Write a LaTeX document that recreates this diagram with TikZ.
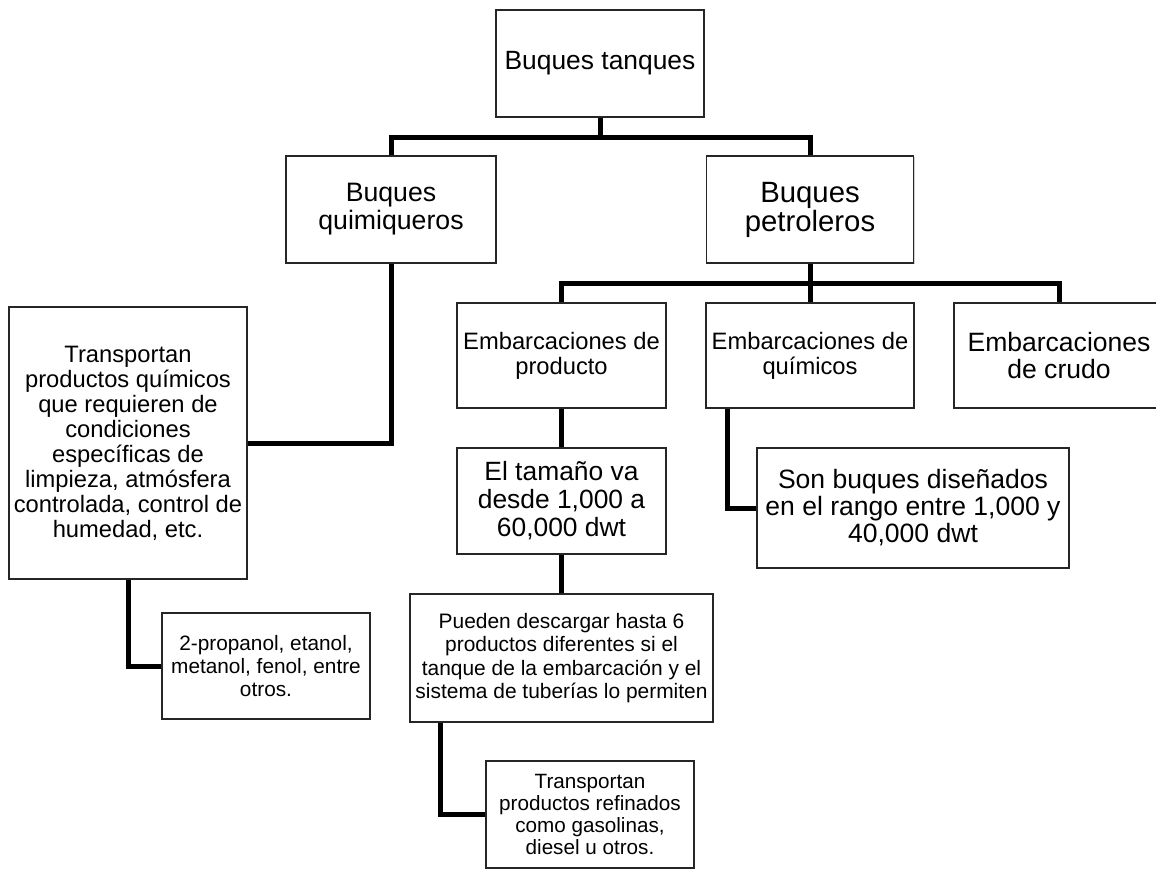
\documentclass[tikz,border=0pt]{standalone}
\usepackage{fontspec}
\setmainfont{Liberation Sans}
\usetikzlibrary{shadows,calc}
\newdimen\pxu \pxu=0.75pt
\newcommand\myfs[2]{\fontsize{#1pt}{#2pt}\selectfont}
\begin{document}
\begin{tikzpicture}[x=0.75pt,y=-0.75pt,
  box/.style={draw=black!85, line width=1.1pt, fill=white, align=center, inner sep=0pt,
    drop shadow={shadow xshift=0.9pt, shadow yshift=-0.9pt, opacity=0.3, fill=black!60}},
  link/.style={line width=3.75pt, line join=miter, draw=black}]
\useasboundingbox (0,0) rectangle (1156,869);
\clip (0,0) rectangle (1156,869);
\fill[white] (0,0) rectangle (1156,869);
% nodes
\node[box, minimum width=208\pxu, minimum height=107\pxu, font=\myfs{19.8}{21}] (tanq) at (600,63.5) {Buques tanques};
\node[box, minimum width=210\pxu, minimum height=107\pxu, font=\myfs{20}{21}] (quim) at (391,209.5) {Buques\\quimiqueros};
\node[box, minimum width=207\pxu, minimum height=107\pxu, font=\myfs{22}{21.75}] (petr) at (810,209.5) {Buques\\petroleros};
\node[box, minimum width=238\pxu, minimum height=272\pxu, font=\myfs{17.8}{18.75}] (left) at (128,443) {Transportan\\productos químicos\\que requieren de\\condiciones\\específicas de\\limpieza, atmósfera\\controlada, control de\\humedad, etc.};
\node[box, minimum width=209\pxu, minimum height=105\pxu, font=\myfs{17.8}{18.75}] (prod) at (561.5,355.5) {Embarcaciones de\\producto};
\node[box, minimum width=208\pxu, minimum height=105\pxu, font=\myfs{17.8}{18.75}] (quimb) at (810,355.5) {Embarcaciones de\\químicos};
\node[box, minimum width=210\pxu, minimum height=105\pxu, font=\myfs{19.9}{20.25}] (crudo) at (1059,355.5) {Embarcaciones\\de crudo};
\node[box, minimum width=209\pxu, minimum height=106\pxu, font=\myfs{19.8}{21}] (tam) at (561.5,501) {El tamaño va\\desde 1,000 a\\60,000 dwt};
\node[box, minimum width=312\pxu, minimum height=120\pxu, font=\myfs{19.9}{20.25}] (son) at (913,508) {Son buques diseñados\\en el rango entre 1,000 y\\40,000 dwt};
\node[box, minimum width=208\pxu, minimum height=106\pxu, font=\myfs{15.6}{17}] (prop) at (266,666) {2-propanol, etanol,\\metanol, fenol, entre\\otros.};
\node[box, minimum width=303\pxu, minimum height=128\pxu, font=\myfs{15.7}{17.5}] (pue) at (561.5,658) {Pueden descargar hasta 6\\productos diferentes si el\\tanque de la embarcación y el\\sistema de tuberías lo permiten};
\node[box, minimum width=208\pxu, minimum height=107\pxu, font=\myfs{15.5}{16.3}] (ref) at (590,814.5) {Transportan\\productos refinados\\como gasolinas,\\diesel u otros.};
% connectors
\draw[link] (tanq.south) -- ++(0,20) -| (quim.north);
\draw[link] (tanq.south) -- ++(0,20) -| (petr.north);
\draw[link] (petr.south) -- ++(0,20) -| (prod.north);
\draw[link] (petr.south) -- (quimb.north);
\draw[link] (petr.south) -- ++(0,20) -| (crudo.north);
\draw[link] (quim.south) |- (left.east);
\draw[link] (left.south) |- (prop.west);
\draw[link] (prod.south) -- (tam.north);
\draw[link] (tam.south) -- (pue.north);
\draw[link] ($(pue.south west)+(31,0)$) |- (ref.west);
\draw[link] ($(quimb.south west)+(22,0)$) |- (son.west);
\end{tikzpicture}
\end{document}
